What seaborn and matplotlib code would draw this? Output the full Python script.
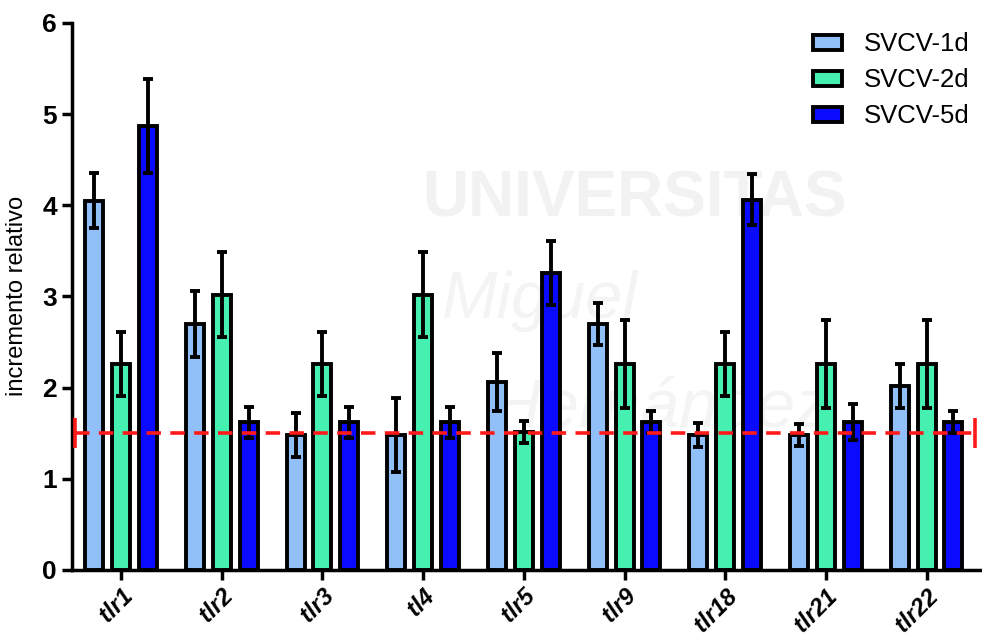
import pandas as pd
import seaborn as sns
import matplotlib.pyplot as plt
from matplotlib.patches import Patch

# data
genes = ['tlr1', 'tlr2', 'tlr3', 'tl4', 'tlr5', 'tlr9', 'tlr18', 'tlr21', 'tlr22']
series = ['SVCV-1d', 'SVCV-2d', 'SVCV-5d']
d1 = [4.05, 2.70, 1.48, 1.48, 2.06, 2.70, 1.48, 1.48, 2.02]
d1_err = [0.30, 0.36, 0.24, 0.41, 0.32, 0.23, 0.13, 0.12, 0.24]
d2 = [2.26, 3.02, 2.26, 3.02, 1.51, 2.26, 2.26, 2.26, 2.26]
d2_err = [0.35, 0.47, 0.35, 0.47, 0.12, 0.48, 0.35, 0.48, 0.48]
d5 = [4.87, 1.62, 1.62, 1.62, 3.26, 1.62, 4.06, 1.62, 1.62]
d5_err = [0.52, 0.17, 0.17, 0.17, 0.35, 0.12, 0.28, 0.20, 0.12]
threshold = 1.5
colors = ['#91BFF8', '#46F0B1', '#0A0AFF']

df = pd.DataFrame({
    'gen': genes * 3,
    'serie': [s for s in series for _ in genes],
    'valor': d1 + d2 + d5,
})

sns.set_style('white')
plt.rcParams['font.family'] = ['Liberation Sans', 'DejaVu Sans']
for k in ['text.color', 'axes.labelcolor', 'xtick.color', 'ytick.color', 'axes.edgecolor']:
    plt.rcParams[k] = 'black'

fig = plt.figure(figsize=(9.82, 6.36), dpi=100)
ax = fig.add_axes([0.073, 0.104, 0.927, 0.860])

# faint watermark behind the bars
wm = dict(transform=fig.transFigure, zorder=0, clip_on=False)
ax.text(0.43, 0.66, 'UNIVERSITAS', fontsize=46, fontweight='bold', color='#f2f2f2', **wm)
ax.text(0.45, 0.50, 'Miguel', fontsize=48, fontstyle='italic', color='#f4f4f4', **wm)
ax.text(0.50, 0.33, 'Hernández', fontsize=50, fontstyle='italic', color='#f4f4f4', **wm)

sns.barplot(data=df, x='gen', y='valor', hue='serie', palette=colors,
            errorbar=None, width=0.8, gap=0.33, edgecolor='black',
            linewidth=2.8, saturation=1, ax=ax, zorder=2)

for cont, vals, errs in zip(ax.containers, [d1, d2, d5], [d1_err, d2_err, d5_err]):
    xs = [b.get_x() + b.get_width() / 2 for b in cont]
    ax.errorbar(xs, vals, yerr=errs, fmt='none', ecolor='black',
                elinewidth=2.8, capsize=3.5, capthick=2.8, zorder=5)

# threshold line with end caps
ax.plot([-0.46, 8.48], [threshold, threshold], ls=(0, (4, 2.6)), color='#ff1a1a',
        lw=2.6, zorder=6)
ax.plot([-0.46, 8.48], [threshold, threshold], ls='none', marker='|',
        markersize=22, markeredgewidth=2.6, color='#ff1a1a', zorder=6)

ax.set_xlim(-0.49, 8.55)
ax.set_ylim(0, 6)
ax.set_yticks(range(7))
ax.set_xlabel('')
ax.set_ylabel('incremento relativo', fontsize=17, labelpad=10)

sns.despine(ax=ax)
for s in ['left', 'bottom']:
    ax.spines[s].set_linewidth(2.5)
ax.tick_params(axis='both', direction='out', width=2.5, length=7, left=True, bottom=True)
for lab in ax.get_yticklabels():
    lab.set_fontsize(19)
    lab.set_fontweight('bold')
for lab in ax.get_xticklabels():
    lab.set_fontsize(17)
    lab.set_fontweight('bold')
    lab.set_fontstyle('italic')
    lab.set_rotation(45)
    lab.set_ha('right')
    lab.set_rotation_mode('anchor')

handles = [Patch(facecolor=c, edgecolor='black', linewidth=2.8) for c in colors]
ax.legend(handles, series, loc='upper right', bbox_to_anchor=(1.012, 1.025),
          frameon=False, fontsize=18.5, handlelength=1.15, handleheight=0.55,
          labelspacing=0.47, handletextpad=0.85)

fig.savefig('out.png', dpi=100)
